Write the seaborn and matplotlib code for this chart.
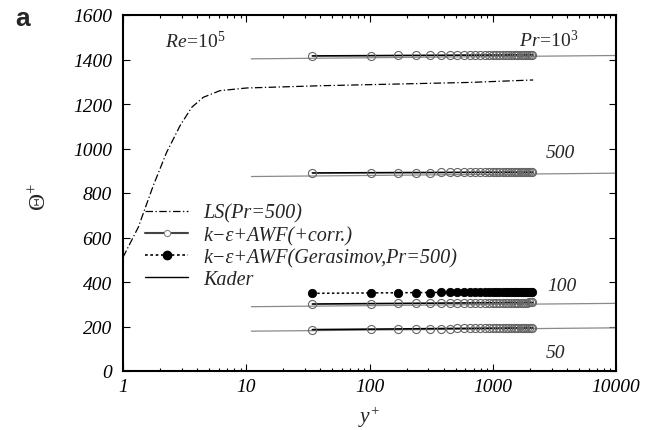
import matplotlib
matplotlib.use("Agg")
import matplotlib.pyplot as plt
from matplotlib.lines import Line2D
from matplotlib.ticker import LogLocator, NullFormatter
import seaborn as sns

# Wall distance y+ of the near-wall cell centres (wall-function runs)
y_awf = [34.4, 103.1, 171.9, 240.6, 309.4, 378.1, 446.9, 515.6, 584.4, 653.1,
         721.9, 790.6, 859.4, 928.1, 996.9, 1065.6, 1134.4, 1203.1, 1271.9,
         1340.6, 1409.4, 1478.1, 1546.9, 1615.6, 1684.4, 1753.1, 1821.9,
         1890.6, 1959.4, 2028.1, 2096.9]

# k-eps + AWF (+corr.) temperature profiles
theta_awf_pr1000 = [1416.0, 1417.3, 1418.0, 1418.4, 1418.7, 1418.9, 1419.1, 1419.3,
                    1419.5, 1419.6, 1419.7, 1419.8, 1419.9, 1420.0, 1420.1, 1420.2,
                    1420.3, 1420.3, 1420.4, 1420.5, 1420.5, 1420.6, 1420.6, 1420.7,
                    1420.7, 1420.8, 1420.8, 1420.9, 1420.9, 1421.0, 1421.0]
theta_awf_pr500 = [890.0, 891.1, 891.6, 891.9, 892.1, 892.3, 892.5, 892.6, 892.8,
                   892.9, 893.0, 893.1, 893.1, 893.2, 893.3, 893.3, 893.4, 893.5,
                   893.5, 893.6, 893.6, 893.7, 893.7, 893.7, 893.8, 893.8, 893.9,
                   893.9, 893.9, 894.0, 894.0]
theta_awf_pr100 = [301.0, 302.9, 303.7, 304.3, 304.7, 305.1, 305.4, 305.6, 305.8,
                   306.0, 306.2, 306.3, 306.5, 306.6, 306.7, 306.9, 307.0, 307.1,
                   307.2, 307.2, 307.3, 307.4, 307.5, 307.6, 307.6, 307.7, 307.8,
                   307.8, 307.9, 308.0, 308.0]
theta_awf_pr50 = [186.0, 188.1, 189.1, 189.8, 190.3, 190.7, 191.0, 191.3, 191.5,
                  191.7, 191.9, 192.1, 192.3, 192.4, 192.6, 192.7, 192.8, 192.9,
                  193.0, 193.1, 193.2, 193.3, 193.4, 193.5, 193.6, 193.7, 193.7,
                  193.8, 193.9, 193.9, 194.0]

# k-eps + AWF with the Gerasimov thermal wall function (Pr=500)
theta_gerasimov = [349.0, 350.9, 351.7, 352.3, 352.7, 353.1, 353.4, 353.6, 353.8,
                   354.0, 354.2, 354.3, 354.5, 354.6, 354.7, 354.9, 355.0, 355.1,
                   355.2, 355.2, 355.3, 355.4, 355.5, 355.6, 355.6, 355.7, 355.8,
                   355.8, 355.9, 356.0, 356.0]

# Low-Reynolds-number (LS) model, Pr=500
y_ls = [1.0, 1.33, 1.76, 2.26, 2.90, 3.61, 4.48, 6.12, 10.1, 39.6, 652.0, 2128.0]
theta_ls = [511, 646, 833, 983, 1102, 1185, 1230, 1260, 1272, 1282, 1297, 1308]

# Kader correlation (straight in semi-log coordinates)
y_kader = [11.0, 10000.0]
kader_pr1000 = [1403, 1418]
kader_pr500 = [874, 889]
kader_pr100 = [289, 304]
kader_pr50 = [179, 194]

x_ticks = [1, 10, 100, 1000, 10000]
x_tick_labels = ["1", "10", "100", "1000", "10000"]
y_ticks = [0, 200, 400, 600, 800, 1000, 1200, 1400, 1600]
y_tick_labels = ["0", "200", "400", "600", "800", "1000", "1200", "1400", "1600"]

legend_labels = ["LS(Pr=500)", "k\u2212\u03b5+AWF(+corr.)",
                 "k\u2212\u03b5+AWF(Gerasimov,Pr=500)", "Kader"]

sns.set_theme(style="ticks")
plt.rcParams.update({
    "font.family": ["Liberation Serif", "DejaVu Serif"],
    "mathtext.fontset": "custom",
    "mathtext.rm": "Liberation Serif",
    "mathtext.it": "Liberation Serif:italic",
    "mathtext.bf": "Liberation Serif:bold",
    "axes.linewidth": 1.5,
    "axes.edgecolor": "black",
})

FS = 14
FS_LEG = 14.5

fig = plt.figure(figsize=(6.54, 4.31), dpi=100)
ax = fig.add_axes([123 / 654, 59 / 431, 493 / 654, 356 / 431])
ax.set_xscale("log")

# Kader correlation lines
for kader in (kader_pr1000, kader_pr500, kader_pr100, kader_pr50):
    sns.lineplot(x=y_kader, y=kader, ax=ax, color="#8a8a8a", linewidth=0.9,
                 zorder=1)

# LS model
sns.lineplot(x=y_ls, y=theta_ls, ax=ax, color="black", linewidth=0.9,
             linestyle=(0, (6, 2, 1, 2)), zorder=2)

# k-eps + AWF (+corr.)
for theta in (theta_awf_pr1000, theta_awf_pr500, theta_awf_pr100, theta_awf_pr50):
    sns.lineplot(x=y_awf, y=theta, ax=ax, color="black", linewidth=1.2,
                 marker="o", markersize=5.8, markerfacecolor="none",
                 markeredgecolor="#666666", markeredgewidth=0.8, zorder=3)

# Gerasimov variant
sns.lineplot(x=y_awf, y=theta_gerasimov, ax=ax, color="black", linewidth=1.1,
             linestyle=(0, (1.6, 1.6)), marker="o", markersize=6.0,
             markerfacecolor="black", markeredgecolor="black",
             markeredgewidth=0.6, zorder=3)

ax.set_xlim(1, 10000)
ax.set_ylim(0, 1600)

ax.set_xticks(x_ticks, x_tick_labels)
ax.xaxis.set_minor_locator(LogLocator(base=10, subs=[2, 3, 4, 5, 6, 7, 8, 9]))
ax.xaxis.set_minor_formatter(NullFormatter())
ax.set_yticks(y_ticks, y_tick_labels)
ax.tick_params(which="both", direction="in", top=True, right=True,
               color="black", width=0.8)
ax.tick_params(which="major", length=5)
ax.tick_params(which="minor", length=2.5)
ax.tick_params(axis="x", pad=5)
ax.tick_params(axis="y", pad=8)
for lbl in ax.get_xticklabels() + ax.get_yticklabels():
    lbl.set_fontstyle("italic")
    lbl.set_fontsize(FS)
    lbl.set_color("black")

ax.set_xlabel(r"$y^{+}$", fontsize=FS + 1.5, va="center", ha="center")
ax.xaxis.set_label_coords(0.499, -0.128)
ax.set_ylabel(r"$\Theta^{+}$", fontsize=FS + 3, va="center", ha="center")
ax.yaxis.set_label_coords(-0.168, 0.49)

# Annotations
ax.text(2.19, 1456, r"$Re\!=\!10^{5}$", fontsize=FS, ha="left", va="baseline")
ax.text(1640, 1458, r"$Pr\!=\!10^{3}$", fontsize=FS, ha="left", va="baseline")
ax.text(2700, 962, "500", fontsize=FS, fontstyle="italic", ha="left", va="baseline")
ax.text(2750, 364, "100", fontsize=FS, fontstyle="italic", ha="left", va="baseline")
ax.text(2700, 63, "50", fontsize=FS, fontstyle="italic", ha="left", va="baseline")

# Legend
handles = [
    Line2D([], [], color="black", linewidth=0.9, linestyle=(0, (6, 2, 1, 2))),
    Line2D([], [], color="#444444", linewidth=1.5, marker="o", markersize=4.5,
           markerfacecolor="white", markeredgecolor="#888888", markeredgewidth=0.8),
    Line2D([], [], color="black", linewidth=1.2, linestyle=(0, (1.6, 1.6)),
           marker="o", markersize=6, markerfacecolor="black", markeredgecolor="black"),
    Line2D([], [], color="black", linewidth=1.0),
]
ax.legend(handles, legend_labels, loc="upper left",
          bbox_to_anchor=(0.0446, 0.47), frameon=False,
          prop={"family": ["Liberation Serif"], "style": "italic", "size": FS_LEG},
          handlelength=2.15, handletextpad=0.75, labelspacing=0.14,
          borderpad=0, borderaxespad=0, numpoints=1)

fig.text(22.5 / 654, 1 - 19 / 431, "a", fontsize=19, fontweight="bold",
         family=["Liberation Sans", "DejaVu Sans"], ha="center", va="center")

fig.savefig("out.png", dpi=100)
